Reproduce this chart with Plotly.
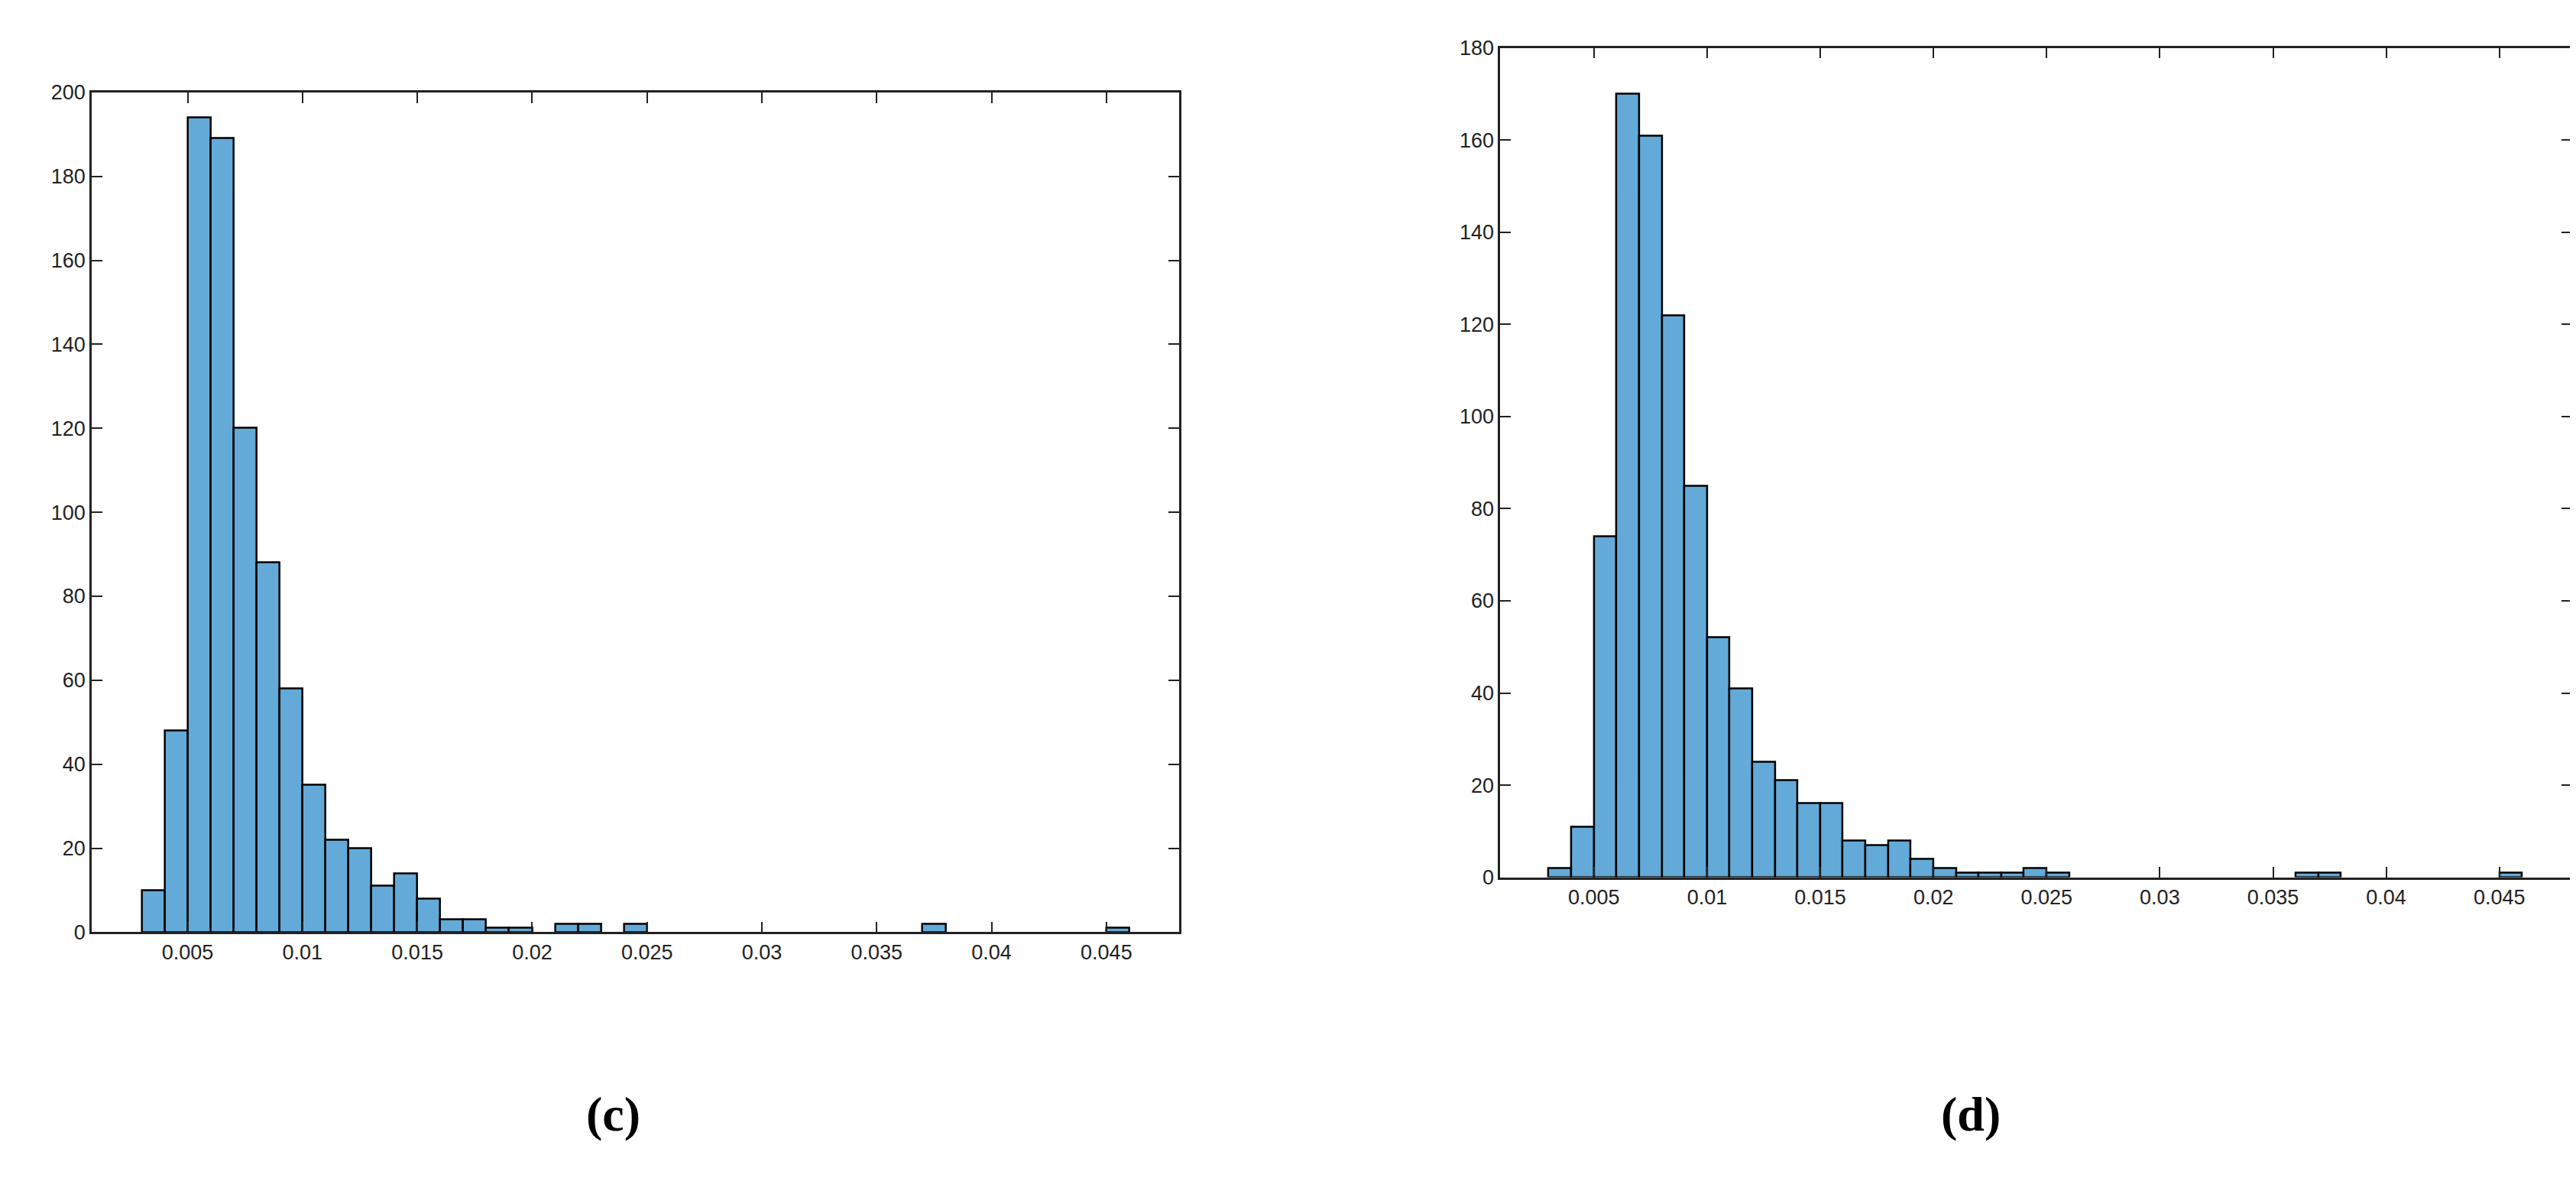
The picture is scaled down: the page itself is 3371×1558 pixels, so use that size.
import plotly.graph_objects as go

bin_start = 0.003
bin_width = 0.001
counts_c = [10,48,194,189,120,88,58,35,22,20,11,14,8,3,3,1,1,0,2,2,0,2,0,0,0,0,0,0,0,0,0,0,0,0,2,0,0,0,0,0,0,0,1]
counts_d = [2,11,74,170,161,122,85,52,41,25,21,16,16,8,7,8,4,2,1,1,1,2,1,0,0,0,0,0,0,0,0,0,0,1,1,0,0,0,0,0,0,0,1]
xticks = [0.005,0.01,0.015,0.02,0.025,0.03,0.035,0.04,0.045]
xtick_text = ["0.005","0.01","0.015","0.02","0.025","0.03","0.035","0.04","0.045"]

def centers(c):
    return [bin_start + (i + 0.5) * bin_width for i in range(len(c))]

fig = go.Figure()
for counts, xa, ya in [(counts_c, "x", "y"), (counts_d, "x2", "y2")]:
    xs = [x for x, v in zip(centers(counts), counts) if v > 0]
    ys = [v for v in counts if v > 0]
    fig.add_trace(go.Bar(x=xs, y=ys, width=bin_width, xaxis=xa, yaxis=ya,
                         marker=dict(color="#64AAD8", line=dict(color="black", width=2.5)),
                         showlegend=False))

axfont = dict(family="Liberation Sans, Arial", size=27, color="#222")
common_x = dict(tickvals=xticks, ticktext=xtick_text, ticks="inside", ticklen=14,
                mirror="ticks", showline=True, linecolor="#222", linewidth=2.5,
                showgrid=False, zeroline=False, tickfont=axfont, tickcolor="#222", tickwidth=2)
common_y = dict(ticks="inside", ticklen=14, mirror="ticks", showline=True, linecolor="#222",
                linewidth=2.5, showgrid=False, zeroline=False, tickfont=axfont,
                tickcolor="#222", tickwidth=2, dtick=20)

fig.update_layout(
    width=3371, height=1558, paper_bgcolor="white", plot_bgcolor="white",
    margin=dict(l=0, r=0, t=0, b=0), bargap=0,
    xaxis=dict(domain=[0.0332, 0.4554], range=[0.00082, 0.04817], anchor="y", **common_x),
    yaxis=dict(domain=[0.217, 0.936], range=[0, 200], anchor="x", **common_y),
    xaxis2=dict(domain=[0.580, 0.996], range=[0.00086, 0.0482], anchor="y2", **common_x),
    yaxis2=dict(domain=[0.264, 0.974], range=[0, 180], anchor="x2", **common_y),
    annotations=[
        dict(text="<b>(c)</b>", x=757/3371, y=1-1501/1558, xref="paper", yref="paper",
             showarrow=False, font=dict(family="Liberation Serif, Times New Roman", size=64, color="black")),
        dict(text="<b>(d)</b>", x=2612/3371, y=1-1501/1558, xref="paper", yref="paper",
             showarrow=False, font=dict(family="Liberation Serif, Times New Roman", size=64, color="black")),
    ],
)
fig.write_html("out.html")
